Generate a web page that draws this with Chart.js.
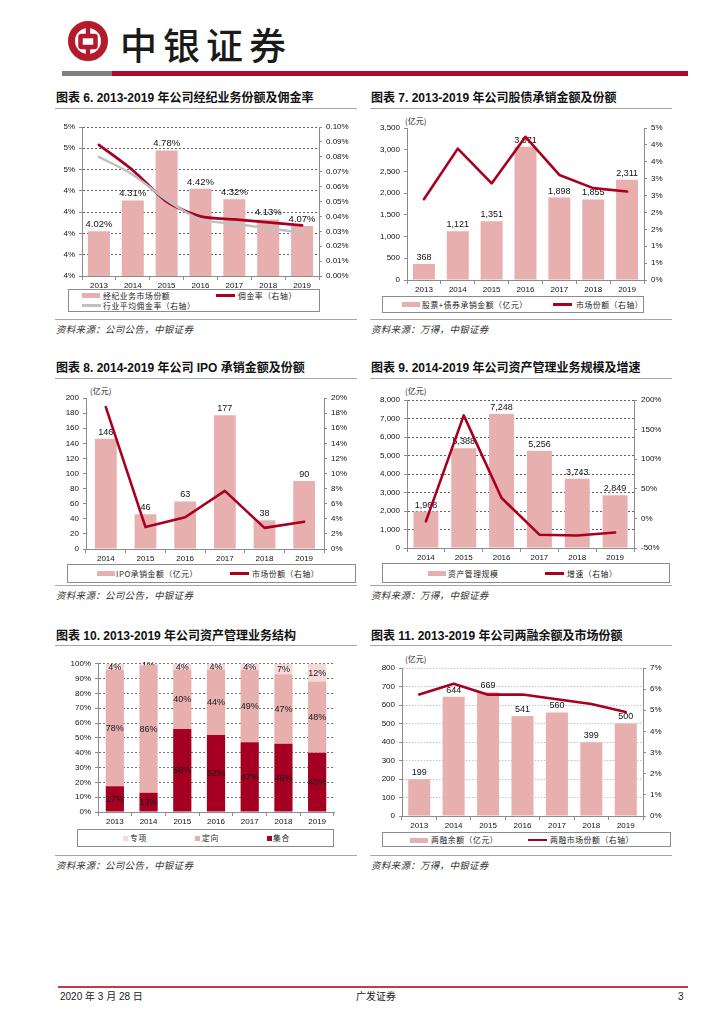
<!DOCTYPE html>
<html><head><meta charset="utf-8">
<script src="https://cdn.jsdelivr.net/npm/chart.js@4.4.1/dist/chart.umd.min.js"></script>
<style>
body{margin:0;background:#fff;}
#page{position:relative;width:724px;height:1024px;overflow:hidden;background:#fff;font-family:'Liberation Sans','Noto Sans CJK SC',sans-serif;}
canvas{position:absolute;}
.title{position:absolute;font-weight:bold;font-size:12px;line-height:14px;color:#111;white-space:nowrap;}
.rule{position:absolute;height:0;border-top:1.5px solid #a6a6a6;}
.srcline{position:absolute;height:0;border-top:1px solid #a6a6a6;}
.src{position:absolute;font-size:9.5px;line-height:11px;font-style:italic;color:#333;white-space:nowrap;font-family:'Noto Sans CJK SC',sans-serif;letter-spacing:0.3px;}
.legbox{position:absolute;border:1px solid #8c8c8c;box-sizing:border-box;}
.legtxt{position:absolute;font-size:7.8px;line-height:9px;color:#222;white-space:nowrap;font-family:'Noto Sans CJK SC',sans-serif;letter-spacing:0.6px;}
.unit{position:absolute;font-size:8px;line-height:9px;color:#222;white-space:nowrap;font-family:'Noto Sans CJK SC',sans-serif;}
.sw{position:absolute;}
.foot{position:absolute;font-size:10px;line-height:12px;color:#222;white-space:nowrap;}
</style>
</head><body>
<div id="page"></div>
<script>
// ---------------- DATA ----------------
const years13to19 = ['2013','2014','2015','2016','2017','2018','2019'];
const years14to19 = ['2014','2015','2016','2017','2018','2019'];

// Chart 6
const names6 = ['经纪业务市场份额','佣金率（右轴）','行业平均佣金率（右轴）'];
const brokerShare = [4.02, 4.31, 4.78, 4.42, 4.32, 4.13, 4.07];
const commissionRate = [0.088, 0.071, 0.050, 0.040, 0.038, 0.036, 0.034];
const industryRate = [0.080, 0.068, 0.051, 0.038, 0.035, 0.032, 0.029];

// Chart 7
const names7 = ['股票+债券承销金额（亿元）','市场份额（右轴）'];
const underwriting = [368, 1121, 1351, 3071, 1898, 1855, 2311];
const underwritingShare = [2.39, 3.89, 2.86, 4.24, 3.11, 2.72, 2.62];

// Chart 8
const names8 = ['IPO承销金额（亿元）','市场份额（右轴）'];
const ipoAmount = [146, 46, 63, 177, 38, 90];
const ipoShare = [18.8, 2.9, 4.2, 7.7, 2.8, 3.6];

// Chart 9
const names9 = ['资产管理规模','增速（右轴）'];
const amScale = [1968, 5388, 7248, 5256, 3743, 2849];
const amGrowth = [-5, 174, 34.5, -27.5, -28.8, -23.9];

// Chart 10
const names10 = ['专项','定向','集合'];
const amZhuanxiang = [4.2, 1, 4, 4, 4, 7, 12];
const amDingxiang = [78.4, 86, 40, 44, 49, 47, 48];
const amJihe = [17.4, 13, 56, 52, 47, 46, 40];

// Chart 11
const names11 = ['两融余额（亿元）','两融市场份额（右轴）'];
const marginBalance = [199, 644, 669, 541, 560, 399, 500];
const marginShare = [5.75, 6.26, 5.74, 5.75, 5.52, 5.30, 4.92];

const titles = [
  '图表 6. 2013-2019 年公司经纪业务份额及佣金率',
  '图表 7. 2013-2019 年公司股债承销金额及份额',
  '图表 8. 2014-2019 年公司 IPO 承销金额及份额',
  '图表 9. 2014-2019 年公司资产管理业务规模及增速',
  '图表 10. 2013-2019 年公司资产管理业务结构',
  '图表 11. 2013-2019 年公司两融余额及市场份额'
];
const srcA = '资料来源：公司公告，中银证券';
const srcB = '资料来源：万得，中银证券';

// ---------------- STYLE ----------------
const FONT = "'Liberation Sans', Arial, sans-serif";
const PINK = '#E8AFAF';
const RED = '#A8001E';
const GRAY = '#C0C0C0';
const AXIS = '#8c8c8c';
const PALE = '#F7D9D9';
const DARKRED = '#A50021';

const page = document.getElementById('page');
function el(cls, css, text) {
  const d = document.createElement('div');
  if (cls) d.className = cls;
  Object.assign(d.style, css);
  if (text != null) d.textContent = text;
  page.appendChild(d);
  return d;
}
const px = v => v + 'px';

// header
(function header(){
  const svgNS = 'http://www.w3.org/2000/svg';
  const svg = document.createElementNS(svgNS, 'svg');
  svg.setAttribute('width', '42'); svg.setAttribute('height', '42');
  svg.style.position = 'absolute'; svg.style.left = '67px'; svg.style.top = '20px';
  svg.innerHTML = '<circle cx="21" cy="21" r="16.5" fill="none" stroke="#B31B2C" stroke-width="7"/>' +
    '<rect x="13.5" y="16" width="15" height="11" rx="1" fill="none" stroke="#B31B2C" stroke-width="4.5"/>' +
    '<rect x="18.8" y="5" width="4.4" height="9" fill="#B31B2C"/>' +
    '<rect x="18.8" y="29" width="4.4" height="9" fill="#B31B2C"/>';
  page.appendChild(svg);
  el('', {position:'absolute', left:'120px', top:'20px', fontSize:'37px', lineHeight:'48px', color:'#1a1a1a',
    fontFamily:"'Noto Sans CJK SC',sans-serif", fontWeight:'500', letterSpacing:'6px', whiteSpace:'nowrap'}, '中银证券');
  el('', {position:'absolute', left:'62px', top:'70.5px', width:'50px', height:'5px', background:'#7f7f7f'});
  el('', {position:'absolute', left:'112px', top:'70.5px', width:'576px', height:'5px', background:'#B0082A'});
})();

// footer
el('', {position:'absolute', left:'58px', top:'986px', width:'630px', height:'1.5px', background:'#C23A4C'});
el('foot', {left:'60px', top:'991px'}, '2020 年 3 月 28 日');
el('foot', {left:'356px', top:'991px'}, '广发证券');
el('foot', {left:'678px', top:'991px'}, '3');

// panel text
function panel(x, titleY, ruleY, srcLineY, srcY, title, src) {
  el('title', {left:px(x+1), top:px(titleY-7)}, title);
  el('rule', {left:px(x), top:px(ruleY), width:'302px'});
  el('srcline', {left:px(x), top:px(srcLineY), width:'302px'});
  el('src', {left:px(x+1), top:px(srcY-5.5)}, src);
}
panel(55, 97.5, 107.5, 319, 329, titles[0], srcA);
panel(370, 97.5, 107.5, 318.5, 329, titles[1], srcB);
panel(55, 367.5, 377.5, 585, 595.5, titles[2], srcA);
panel(370, 367.5, 377.5, 584.5, 595.5, titles[3], srcB);
panel(55, 635.5, 645, 855, 865, titles[4], srcA);
panel(370, 635.5, 645, 855, 865, titles[5], srcB);

// units
el('unit', {left:'405px', top:'116px'}, '(亿元)');
el('unit', {left:'90px', top:'386px'}, '(亿元)');
el('unit', {left:'405px', top:'386px'}, '(亿元)');
el('unit', {left:'405px', top:'654px'}, '(亿元)');

// legends
function legend(box, items) {
  el('legbox', {left:px(box.l), top:px(box.t), width:px(box.r-box.l), height:px(box.b-box.t)});
  items.forEach(it => {
    if (it.kind === 'bar') el('sw', {left:px(it.x), top:px(it.y-2.5), width:'18px', height:'5px', background:it.color});
    else if (it.kind === 'line') el('sw', {left:px(it.x), top:px(it.y-1.25), width:'19px', height:'2.5px', background:it.color});
    else el('sw', {left:px(it.x), top:px(it.y-2.5), width:'5px', height:'5px', background:it.color});
    el('legtxt', {left:px(it.tx), top:px(it.y-5)}, it.text);
  });
}
legend({l:68,t:289,r:320,b:312}, [
  {kind:'bar', color:PINK, x:82, y:295.5, tx:103, text:names6[0]},
  {kind:'line', color:RED, x:216, y:295.5, tx:238, text:names6[1]},
  {kind:'line', color:GRAY, x:82, y:305.5, tx:103, text:names6[2]}
]);
legend({l:382,t:296,r:644,b:313}, [
  {kind:'bar', color:PINK, x:402, y:304.5, tx:422, text:names7[0]},
  {kind:'line', color:RED, x:553, y:304.5, tx:576, text:names7[1]}
]);
legend({l:67,t:564,r:356,b:583}, [
  {kind:'bar', color:PINK, x:97, y:573.5, tx:116, text:names8[0]},
  {kind:'line', color:RED, x:230, y:573.5, tx:252, text:names8[1]}
]);
legend({l:382,t:563,r:670,b:583}, [
  {kind:'bar', color:PINK, x:428, y:573.5, tx:448, text:names9[0]},
  {kind:'line', color:RED, x:545, y:573.5, tx:567, text:names9[1]}
]);
legend({l:77,t:829,r:334,b:847}, [
  {kind:'sq', color:PALE, x:123, y:838, tx:130, text:names10[0]},
  {kind:'sq', color:PINK, x:195, y:838, tx:202, text:names10[1]},
  {kind:'sq', color:DARKRED, x:267, y:838, tx:273, text:names10[2]}
]);
legend({l:382,t:832,r:671,b:847}, [
  {kind:'bar', color:PINK, x:410, y:840, tx:431, text:names11[0]},
  {kind:'line', color:RED, x:528, y:840, tx:550, text:names11[1]}
]);

// ---------------- CHARTS ----------------
const barLabels = {
  id: 'barLabels',
  afterDatasetDraw(chart, args) {
    const ds = chart.data.datasets[args.index];
    if (!ds.labelFmt) return;
    const ctx = chart.ctx;
    ctx.save();
    ctx.font = (ds.labelSize || 9) + 'px ' + FONT;
    ctx.fillStyle = ds.labelColor || '#111';
    ctx.textAlign = 'center';
    args.meta.data.forEach((bar, i) => {
      const txt = ds.labelFmt(ds.data[i]);
      if (ds.labelPos === 'center') {
        ctx.textBaseline = 'middle';
        ctx.fillText(txt, bar.x, (bar.y + bar.base) / 2 + 0.5);
      } else {
        ctx.textBaseline = 'bottom';
        ctx.fillText(txt, bar.x, bar.y - 2);
      }
    });
    ctx.restore();
  }
};

const tickFont = {family: FONT, size: 8};
const comma = v => Number(v).toLocaleString('en-US');

function makeChart(o) {
  const pw = o.plot.r - o.plot.l, ph = o.plot.b - o.plot.t;
  const W = o.lw + pw + o.rw, H = o.tp + ph + o.xh;
  const cv = document.createElement('canvas');
  cv.width = W; cv.height = H;
  cv.style.left = px(o.plot.l - o.lw); cv.style.top = px(o.plot.t - o.tp);
  cv.style.width = px(W); cv.style.height = px(H);
  page.appendChild(cv);
  const g = o.grid;
  const scales = {
    x: {
      type: 'category', offset: true, stacked: !!o.stacked,
      grid: {display: true, drawOnChartArea: false, drawTicks: true, tickLength: 4, color: AXIS, offset: true},
      border: {display: true, color: AXIS, width: 1},
      ticks: {font: tickFont, color: '#111', padding: 1, maxRotation: 0, autoSkip: false},
      afterFit: s => { s.height = o.xh; }
    },
    y: {
      position: 'left', min: o.y.min, max: o.y.max, stacked: !!o.stacked,
      ticks: {stepSize: o.y.step, font: tickFont, color: '#111', padding: 4, callback: o.y.fmt, autoSkip: false},
      grid: {display: true, drawOnChartArea: !!g, color: g ? g.color : AXIS, lineWidth: g ? g.width : 1,
             drawTicks: true, tickLength: 3, tickColor: AXIS, tickWidth: 1},
      border: {display: true, color: AXIS, width: 1, dash: g ? g.dash : []},
      afterFit: s => { s.width = o.lw; }
    }
  };
  if (o.y1) {
    scales.y1 = {
      position: 'right', min: o.y1.min, max: o.y1.max,
      ticks: {stepSize: o.y1.step, font: tickFont, color: '#111', padding: 4, callback: o.y1.fmt, autoSkip: false},
      grid: {display: true, drawOnChartArea: false, drawTicks: true, tickLength: 3, color: AXIS},
      border: {display: true, color: AXIS, width: 1},
      afterFit: s => { s.width = o.rw; }
    };
  }
  return new Chart(cv, {
    type: 'bar',
    data: {labels: o.labels, datasets: o.datasets},
    options: {
      responsive: false, animation: false, devicePixelRatio: 1,
      layout: {padding: {top: o.tp, left: 0, right: o.y1 ? 0 : o.rw, bottom: 0}},
      plugins: {legend: {display: false}, tooltip: {enabled: false}, title: {display: false}},
      scales
    },
    plugins: [barLabels]
  });
}

function barDs(label, data, color, pct, fmt, size) {
  return {type: 'bar', label, data, backgroundColor: color, borderWidth: 0, yAxisID: 'y', order: 2,
    categoryPercentage: 1, barPercentage: pct, labelFmt: fmt, labelSize: size || 9};
}
function lineDs(label, data, color, width, tension) {
  return {type: 'line', label, data, borderColor: color, backgroundColor: color, borderWidth: width,
    pointRadius: 0, tension: tension || 0, yAxisID: 'y1', order: 1, fill: false, borderCapStyle: 'round', borderJoinStyle: 'round'};
}
const darkDash = {color: '#3a3a3a', width: 0.8, dash: [2, 2]};

// Chart 6
makeChart({
  plot: {l: 82, t: 127, r: 319, b: 276}, lw: 34, rw: 36, tp: 10, xh: 16,
  labels: years13to19,
  y: {min: 3.6, max: 5.0, step: 0.2, fmt: v => Math.round(v) + '%'},
  y1: {min: 0, max: 0.1, step: 0.01, fmt: v => v.toFixed(2) + '%'},
  grid: darkDash,
  datasets: [
    barDs(names6[0], brokerShare, PINK, 0.65, v => v.toFixed(2) + '%', 9.5),
    lineDs(names6[2], industryRate, GRAY, 2.5, 0.3),
    lineDs(names6[1], commissionRate, RED, 2.8, 0.25)
  ]
});

// Chart 7
makeChart({
  plot: {l: 407, t: 128, r: 644, b: 280}, lw: 36, rw: 26, tp: 10, xh: 16,
  labels: years13to19,
  y: {min: 0, max: 3500, step: 500, fmt: v => comma(v)},
  y1: {min: 0, max: 4.5, step: 0.5, fmt: v => Math.round(v) + '%'},
  datasets: [
    barDs(names7[0], underwriting, PINK, 0.65, v => comma(v)),
    lineDs(names7[1], underwritingShare, RED, 2.6)
  ]
});

// Chart 8
makeChart({
  plot: {l: 86, t: 398, r: 324, b: 549}, lw: 34, rw: 30, tp: 10, xh: 16,
  labels: years14to19,
  y: {min: 0, max: 200, step: 20, fmt: v => v},
  y1: {min: 0, max: 20, step: 2, fmt: v => v + '%'},
  datasets: [
    barDs(names8[0], ipoAmount, PINK, 0.55, v => String(v)),
    lineDs(names8[1], ipoShare, RED, 2.6)
  ]
});

// Chart 9
makeChart({
  plot: {l: 407, t: 400, r: 634, b: 548}, lw: 40, rw: 36, tp: 10, xh: 16,
  labels: years14to19,
  y: {min: 0, max: 8000, step: 1000, fmt: v => comma(v)},
  y1: {min: -50, max: 200, step: 50, fmt: v => v + '%'},
  grid: darkDash,
  datasets: [
    barDs(names9[0], amScale, PINK, 0.66, v => comma(v)),
    lineDs(names9[1], amGrowth, RED, 2.6)
  ]
});

// Chart 10
function stackDs(label, data, color) {
  return {type: 'bar', label, data, backgroundColor: color, borderWidth: 0, yAxisID: 'y',
    categoryPercentage: 1, barPercentage: 0.54, labelFmt: v => Math.round(v) + '%', labelPos: 'center', labelSize: 9, labelColor: '#1a1a1a'};
}
makeChart({
  plot: {l: 98, t: 663, r: 334, b: 812}, lw: 38, rw: 10, tp: 8, xh: 16, stacked: true,
  labels: years13to19,
  y: {min: 0, max: 100, step: 10, fmt: v => v + '%'},
  grid: {color: '#555', width: 0.8, dash: [2, 2]},
  datasets: [
    stackDs(names10[2], amJihe, DARKRED),
    stackDs(names10[1], amDingxiang, PINK),
    stackDs(names10[0], amZhuanxiang, PALE)
  ]
});

// Chart 11
makeChart({
  plot: {l: 402, t: 668, r: 643, b: 816}, lw: 32, rw: 26, tp: 10, xh: 16,
  labels: years13to19,
  y: {min: 0, max: 800, step: 100, fmt: v => v},
  y1: {min: 0, max: 7, step: 1, fmt: v => v + '%'},
  grid: {color: '#b5b5b5', width: 0.8, dash: [1.5, 1.5]},
  datasets: [
    barDs(names11[0], marginBalance, PINK, 0.64, v => String(v)),
    lineDs(names11[1], marginShare, RED, 2.6)
  ]
});
</script>
</body></html>
